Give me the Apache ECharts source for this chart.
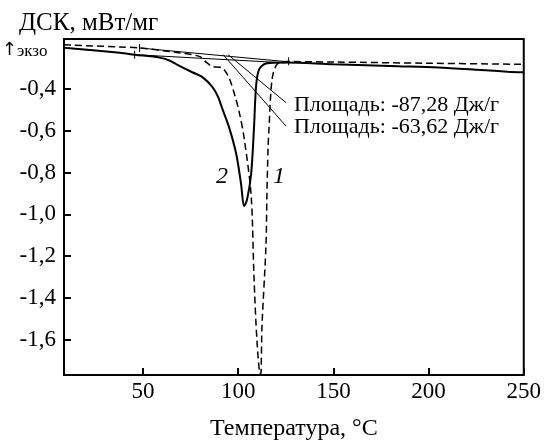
<!DOCTYPE html>
<html>
<head>
<meta charset="utf-8">
<script src="https://cdn.jsdelivr.net/npm/echarts@6/dist/echarts.min.js"></script>
<style>
  html, body { margin: 0; padding: 0; background: #fff; }
  #chart { width: 544px; height: 446px; }
</style>
</head>
<body>
<div id="chart"></div>
<script>
// curve 2 (solid)
var curve2 = [
  [8.5, -0.204], [37.8, -0.228], [45.6, -0.237], [58.7, -0.251], [63.9, -0.265],
  [67.6, -0.283], [75.9, -0.321], [81.2, -0.344], [86.4, -0.391], [89.5, -0.44],
  [91.6, -0.494], [95.3, -0.587], [99.0, -0.713], [101.5, -0.854], [103.1, -0.961],
  [104.7, -0.928], [106.8, -0.807], [108.3, -0.587], [109.4, -0.386], [111.0, -0.307],
  [114.6, -0.279], [125.1, -0.274], [150, -0.283], [184, -0.292], [205, -0.298],
  [227.5, -0.310], [241.6, -0.318], [250, -0.321]
];
// curve 1 (dashed)
var curve1 = [
  [8.5, -0.190], [37.8, -0.200], [48.2, -0.205], [63.9, -0.222], [79.6, -0.245],
  [83.3, -0.274], [86.4, -0.293], [91.6, -0.300], [95.3, -0.350], [98.5, -0.440],
  [100.5, -0.510], [103.1, -0.634], [106.8, -0.910], [108.3, -1.300], [109.9, -1.610],
  [111.6, -1.765], [112.0, -1.755], [112.5, -1.536], [114.6, -1.148], [115.1, -0.900],
  [115.7, -0.681], [116.2, -0.587], [117.8, -0.354], [120.4, -0.283], [125.1, -0.270],
  [150, -0.272], [200, -0.278], [250, -0.283]
];
// integration baselines
var base1 = [[48.2, -0.205], [125.1, -0.270]];
var base2 = [[45.6, -0.237], [125.1, -0.276]];
// leader lines to area labels
var lead1 = [[94.7, -0.237], [125.1, -0.466]];
var lead2 = [[92.1, -0.237], [125.1, -0.578]];
// integration limit marks
var limits = [[48.2, -0.205], [45.6, -0.237], [126.5, -0.268]];

var xTicks = [50, 100, 150, 200, 250];
var yTicks = [-1.6, -1.4, -1.2, -1.0, -0.8, -0.6, -0.4];
var areaLabels = ['Площадь: -87,28 Дж/г', 'Площадь: -63,62 Дж/г'];
var areaPos = [[129.3, -0.478], [129.3, -0.585]];
var curveNames = ['2', '1'];
var curveNamePos = [[91.5, -0.821], [121.4, -0.821]];

var font = 'Liberation Serif';
var chart = echarts.init(document.getElementById('chart'));

function thin(data) {
  return {
    type: 'line', data: data, showSymbol: false, silent: true,
    lineStyle: { color: '#000', width: 1 }, z: 3
  };
}

var option = {
  animation: false,
  title: {
    text: 'ДСК, мВт/мг', left: 14, top: 6,
    textStyle: { fontFamily: font, fontSize: 25, fontWeight: 'normal', color: '#000' }
  },
  grid: {
    left: 64, right: 18, top: 39, bottom: 63,
    show: true, borderColor: '#000', borderWidth: 2, backgroundColor: 'transparent'
  },
  xAxis: {
    type: 'value', min: 8.5, max: 250,
    name: 'Температура, °C', nameLocation: 'middle', nameGap: 42,
    nameTextStyle: { fontFamily: font, fontSize: 24, color: '#000' },
    axisLine: { show: false },
    axisTick: { inside: true, length: 7, customValues: xTicks, lineStyle: { color: '#000', width: 2 } },
    axisLabel: { customValues: xTicks, margin: 5, fontFamily: font, fontSize: 23, color: '#000' },
    splitLine: { show: false }
  },
  yAxis: {
    type: 'value', min: -1.768, max: -0.162,
    axisLine: { show: false },
    axisTick: { inside: true, length: 7, customValues: yTicks, lineStyle: { color: '#000', width: 2 } },
    axisLabel: {
      customValues: yTicks, margin: 8, fontFamily: font, fontSize: 23, color: '#000',
      formatter: function (v) { return v.toFixed(1).replace('.', ','); }
    },
    splitLine: { show: false }
  },
  series: [
    {
      type: 'line', data: curve2, smooth: 0.3, showSymbol: false,
      lineStyle: { color: '#000', width: 2 }, z: 4
    },
    {
      type: 'line', data: curve1, smooth: 0.3, showSymbol: false,
      lineStyle: { color: '#000', width: 1.5, type: [7, 4] }, z: 4
    },
    thin(base1), thin(base2), thin(lead1), thin(lead2),
    {
      type: 'scatter', data: limits, symbol: 'rect', symbolSize: [1, 8], silent: true,
      itemStyle: { color: '#000', opacity: 1 }, z: 5
    },
    {
      type: 'scatter', symbolSize: 0, silent: true,
      itemStyle: { opacity: 1 },
      data: areaPos.map(function (p, i) { return { value: p, name: areaLabels[i] }; }),
      label: {
        show: true, position: 'right', distance: 0, formatter: '{b}',
        fontFamily: font, fontSize: 22, color: '#000'
      }
    },
    {
      type: 'scatter', symbolSize: 0, silent: true,
      itemStyle: { opacity: 1 },
      data: curveNamePos.map(function (p, i) { return { value: p, name: curveNames[i] }; }),
      label: {
        show: true, position: 'inside', formatter: '{b}',
        fontFamily: font, fontSize: 24, fontStyle: 'italic', color: '#000'
      }
    }
  ],
  graphic: [
    {
      type: 'text', left: 2, top: 41,
      style: { text: '↑', font: '18px "DejaVu Sans"', fill: '#000' }
    },
    {
      type: 'text', left: 17, top: 43,
      style: { text: 'экзо', font: '17px "Liberation Serif"', fill: '#000' }
    }
  ]
};
chart.setOption(option);
</script>
</body>
</html>
